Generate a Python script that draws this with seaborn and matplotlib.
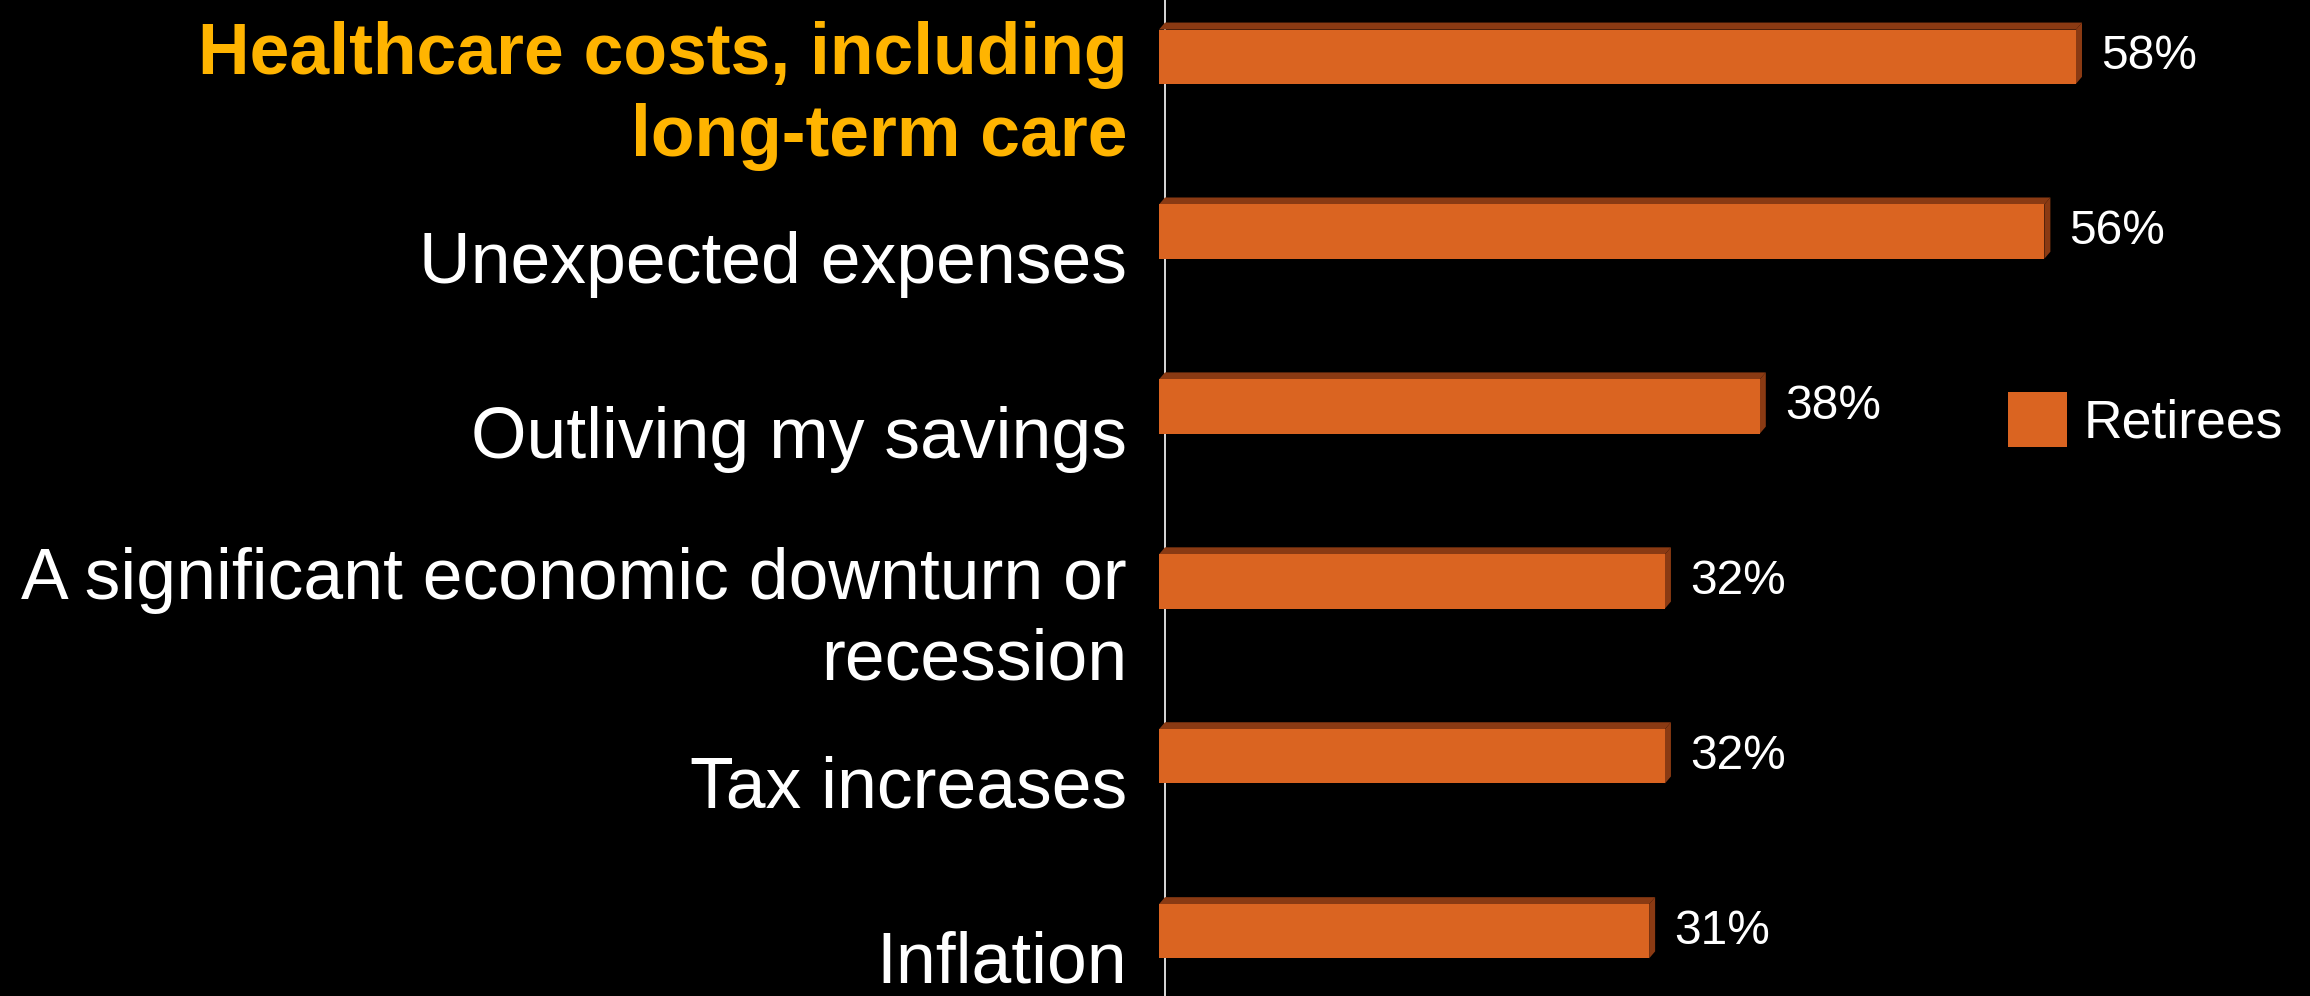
import numpy as np
import pandas as pd
import seaborn as sns
import matplotlib.pyplot as plt
import matplotlib.transforms as mtransforms
from matplotlib.patches import Polygon, Patch

# data
concerns = ['Healthcare costs, including\nlong-term care',
            'Unexpected expenses',
            'Outliving my savings',
            'A significant economic downturn or\nrecession',
            'Tax increases',
            'Inflation']
retirees = [58, 56, 38, 32, 32, 31]
series_name = 'Retirees'

FRONT = '#DA6421'
DEPTH = '#8A3A13'
GOLD = '#FFB400'

sns.set_theme(style='white')
plt.rcParams['font.family'] = ['Liberation Sans', 'DejaVu Sans']

W, H, DPI = 2310, 996, 100
fig = plt.figure(figsize=(W / DPI, H / DPI), dpi=DPI, facecolor='black')
ax = fig.add_axes([1159 / W, 0, 1 - 1159 / W, 1])
ax.set_facecolor('black')

df = pd.DataFrame({'concern': concerns, 'pct': retirees})
sns.barplot(data=df, x='pct', y='concern', orient='h', color=FRONT, saturation=1,
            width=0.31, linewidth=0, ax=ax, zorder=3)

ax.set_xlim(0, 72.8)
ax.set_ylim(5.37, -0.324)
ax.set_xticks([])
ax.set_xlabel('')
ax.set_ylabel('')
sns.despine(ax=ax, left=True, bottom=True)

# vertical axis line sits a few pixels right of where the bars start
ax.axvline(0.38, color='#D9D9D9', linewidth=1.4, zorder=2)

# fake 3D depth on each bar (top and right faces), in pixel offsets
dx, dy = 6, 7
ident = mtransforms.IdentityTransform()
for bar in list(ax.containers[0]):
    (xa, ya), (xb, yb) = ax.transData.transform(
        [(bar.get_x(), bar.get_y()), (bar.get_x() + bar.get_width(), bar.get_y() + bar.get_height())])
    x0, x1 = min(xa, xb), max(xa, xb)
    top, bot = max(ya, yb), min(ya, yb)
    top_face = [(x0, top), (x0 + dx, top + dy), (x1 + dx, top + dy), (x1, top)]
    side_face = [(x1, top), (x1 + dx, top + dy), (x1 + dx, bot + dy), (x1, bot)]
    for pts in (top_face, side_face):
        ax.add_patch(Polygon(pts, closed=True, facecolor=DEPTH, edgecolor='none',
                             transform=ident, zorder=2.9, clip_on=False))

# value labels
ax.bar_label(ax.containers[0], labels=[f'{v}%' for v in retirees], padding=18,
             color='white', fontsize=34.5)

# category labels, shifted a little below the bars like the original
ax.tick_params(axis='y', length=0, pad=23)
offset = mtransforms.ScaledTranslation(0, -25 / DPI, fig.dpi_scale_trans)
for i, lab in enumerate(ax.get_yticklabels()):
    lab.set_fontsize(51.5)
    lab.set_linespacing(1.26)
    if i == 0:
        lab.set_color(GOLD)
        lab.set_fontweight('bold')
    else:
        lab.set_color('white')
    lab.set_transform(lab.get_transform() + offset)

handle = Patch(facecolor=FRONT, edgecolor='none')
fig.legend([handle], [series_name], loc='center left',
           bbox_to_anchor=(2008 / W, 1 - 420 / H), frameon=False,
           fontsize=38.5, handlelength=1.1, handleheight=1.2, handletextpad=0.32,
           borderpad=0, borderaxespad=0, labelcolor='white')

fig.savefig('out.png', dpi=DPI, facecolor='black')
